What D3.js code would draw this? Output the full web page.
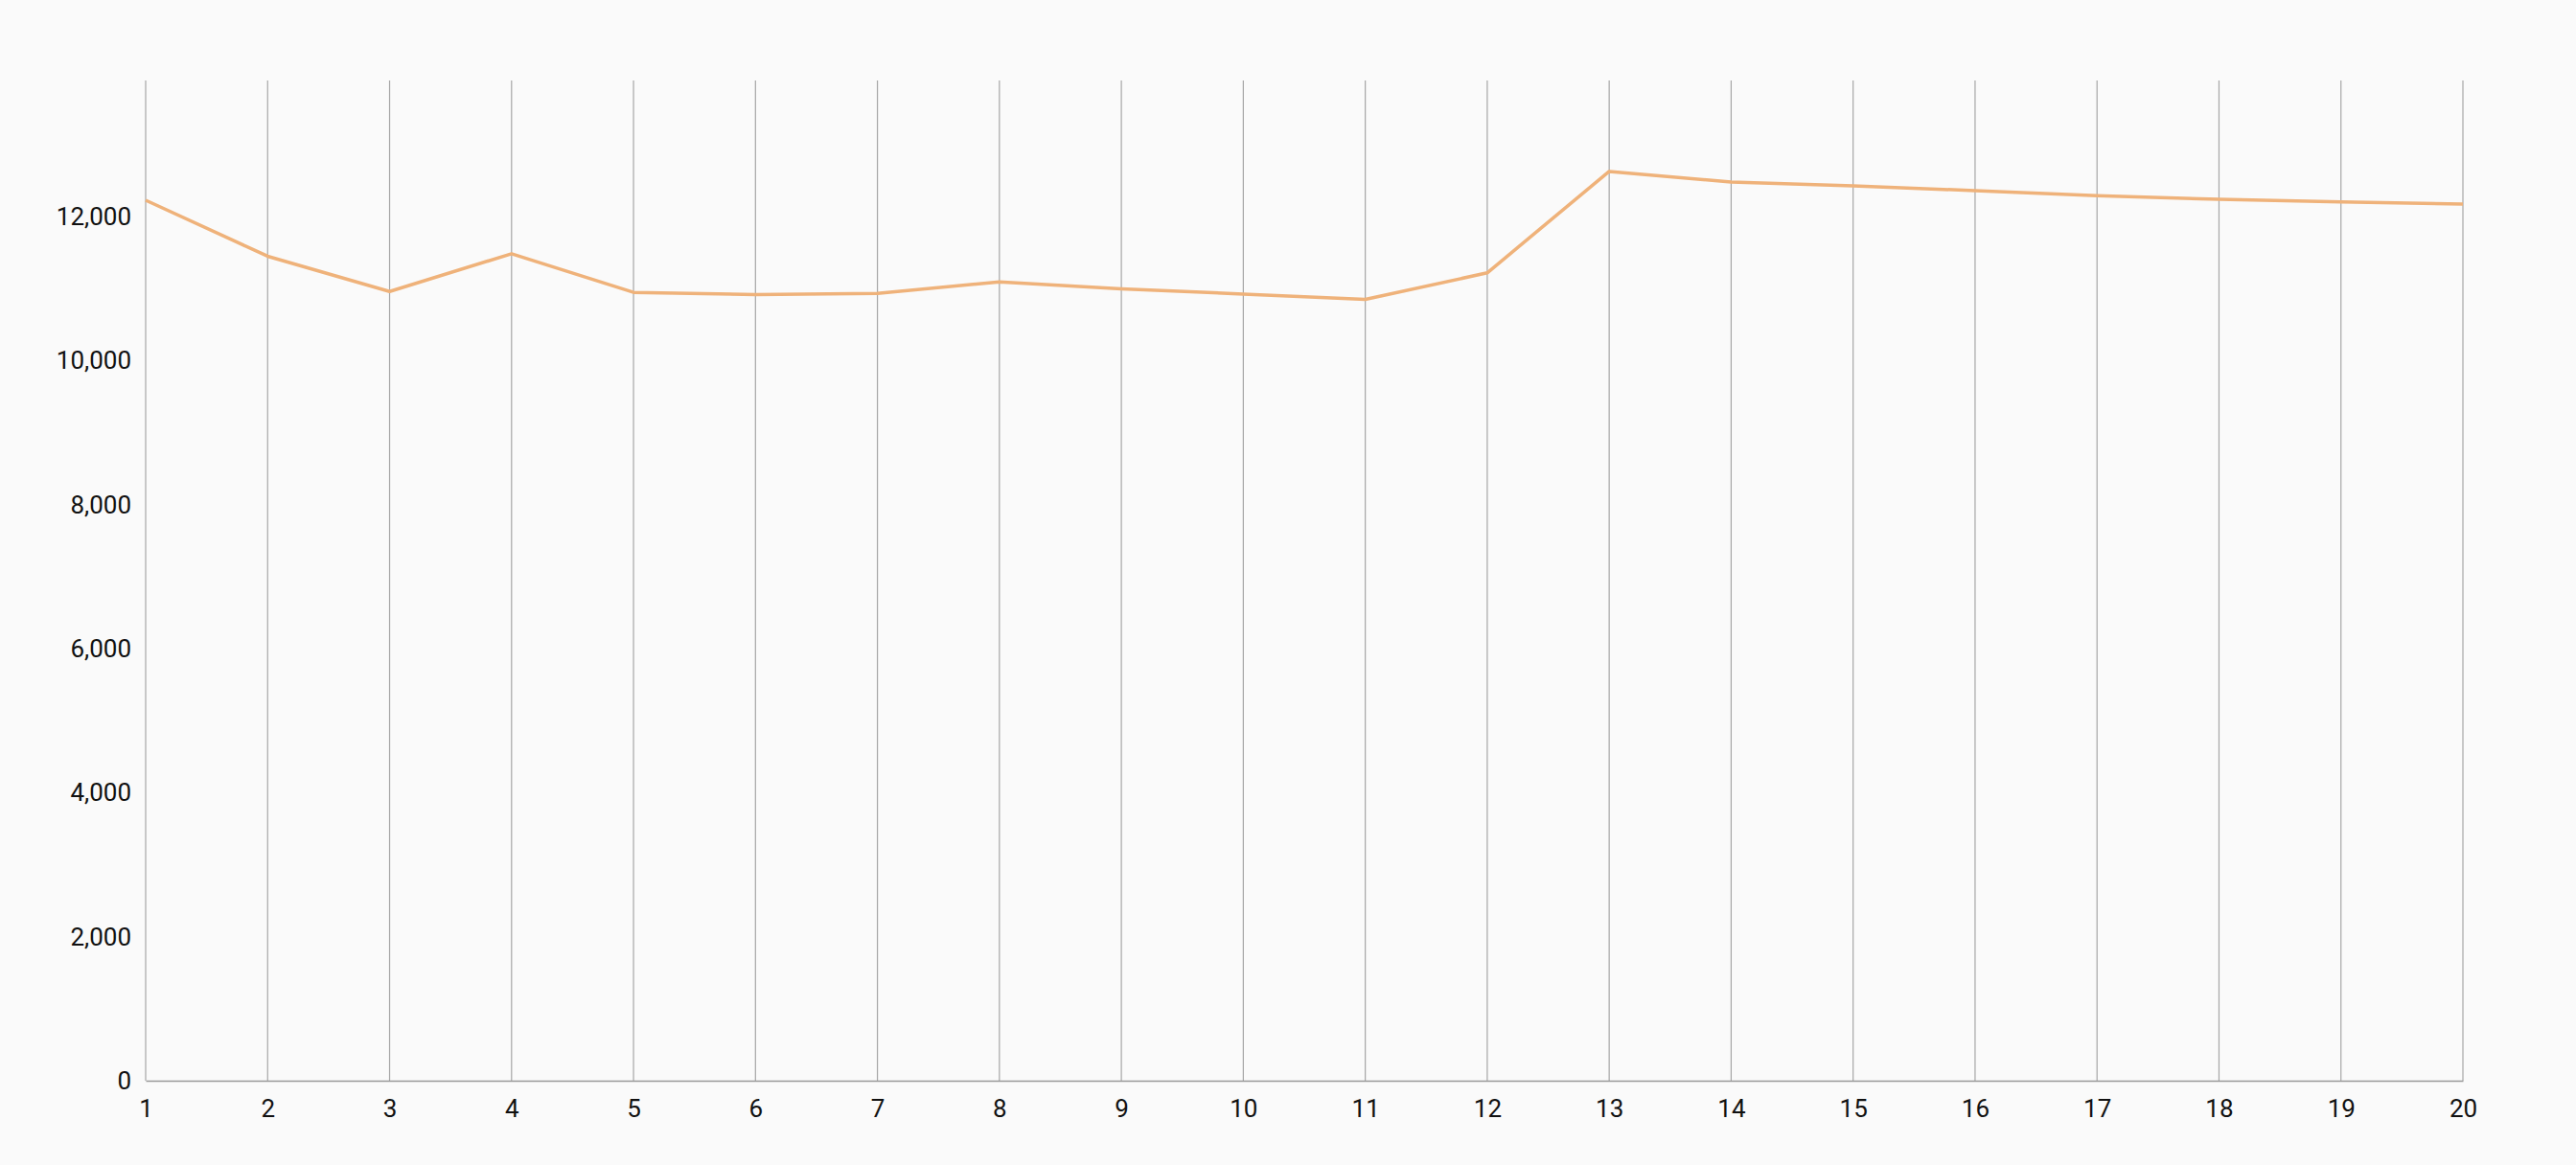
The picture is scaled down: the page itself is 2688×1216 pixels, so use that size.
<!DOCTYPE html>
<html>
<head>
<meta charset="utf-8">
<script src="https://cdn.jsdelivr.net/npm/d3@7"></script>
<style>
  html, body { margin: 0; padding: 0; background: #fafafa; }
  #chart { width: 2688px; height: 1216px; }
</style>
</head>
<body>
<div id="chart"></div>
<script>
  // data
  const categories = [1, 2, 3, 4, 5, 6, 7, 8, 9, 10, 11, 12, 13, 14, 15, 16, 17, 18, 19, 20];
  const values = [12227, 11449, 10960, 11484, 10947, 10916, 10933, 11093, 10996, 10924,
                  10849, 11218, 12627, 12480, 12427, 12360, 12289, 12240, 12204, 12173];
  const yTicks = [0, 2000, 4000, 6000, 8000, 10000, 12000];

  // set margin, width and height
  const fullWidth = 2688;
  const fullHeight = 1216;
  const margin = { top: 84, right: 118, bottom: 88, left: 152 };
  const width = fullWidth - margin.left - margin.right;
  const height = fullHeight - margin.top - margin.bottom;

  const x = d3.scalePoint().domain(categories).range([0, width]);
  const y = d3.scaleLinear()
    .domain([0, d3.max(values) * 1.1])
    .range([height, 0]);

  const svg = d3
    .select("#chart")
    .append("svg")
    .attr("width", fullWidth)
    .attr("height", fullHeight)
    .style("background", "#fafafa")
    .append("g")
    .attr("transform", `translate(${margin.left}, ${margin.top})`);

  // vertical grid
  svg
    .selectAll(".xGrid")
    .data(categories)
    .join("line")
    .attr("class", "xGrid")
    .attr("x1", (d) => x(d))
    .attr("x2", (d) => x(d))
    .attr("y1", 0)
    .attr("y2", height)
    .attr("stroke", "#a6a6a6")
    .attr("stroke-width", 1.2);

  // x axis
  const xAxis = svg
    .append("g")
    .attr("transform", `translate(0,${height})`)
    .call(d3.axisBottom(x).tickSize(0).tickPadding(20));
  xAxis.select(".domain").attr("stroke", "#999").attr("stroke-width", 1.5);
  xAxis.selectAll("text")
    .style("font-family", "Roboto, sans-serif")
    .style("font-size", "26px")
    .style("fill", "#111");

  // y axis
  const yAxis = svg
    .append("g")
    .call(d3.axisLeft(y).tickValues(yTicks).tickSize(0).tickPadding(15).tickFormat(d3.format(",")));
  yAxis.select(".domain").remove();
  yAxis.selectAll("text")
    .style("font-family", "Roboto, sans-serif")
    .style("font-size", "26px")
    .style("fill", "#111");

  // the line
  const line = d3
    .line()
    .x((d, i) => x(categories[i]))
    .y((d) => y(d));

  svg
    .append("path")
    .datum(values)
    .attr("fill", "none")
    .attr("stroke", "#efb27a")
    .attr("stroke-width", 3.5)
    .attr("stroke-linejoin", "round")
    .attr("d", line);
</script>
</body>
</html>
